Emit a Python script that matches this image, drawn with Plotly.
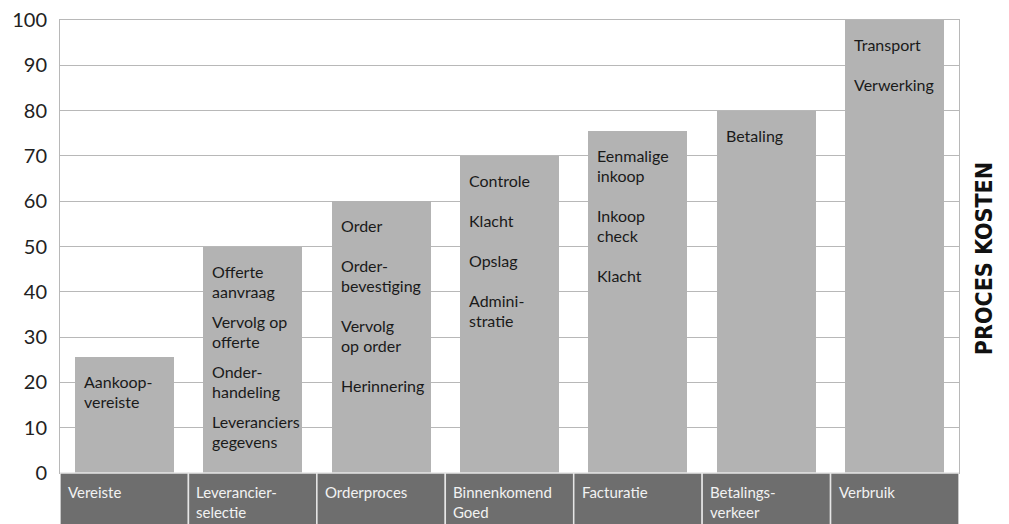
import plotly.graph_objects as go

# ---------------- data ----------------
categories = ["Vereiste", "Leverancierselectie", "Orderproces", "Binnenkomend Goed",
              "Facturatie", "Betalingsverkeer", "Verbruik"]
category_labels = [["Vereiste"], ["Leverancier-", "selectie"], ["Orderproces"],
                   ["Binnenkomend", "Goed"], ["Facturatie"], ["Betalings-", "verkeer"],
                   ["Verbruik"]]
costs = [25.6, 50, 60, 70, 75.5, 80, 100]
bar_items = [
    [["Aankoop-", "vereiste"]],
    [["Offerte", "aanvraag"], ["Vervolg op", "offerte"], ["Onder-", "handeling"],
     ["Leveranciers", "gegevens"]],
    [["Order"], ["Order-", "bevestiging"], ["Vervolg", "op order"], ["Herinnering"]],
    [["Controle"], ["Klacht"], ["Opslag"], ["Admini-", "stratie"]],
    [["Eenmalige", "inkoop"], ["Inkoop", "check"], ["Klacht"]],
    [["Betaling"]],
    [["Transport"], ["Verwerking"]],
]
y_ticks = [0, 10, 20, 30, 40, 50, 60, 70, 80, 90, 100]
title_text = "PROCES KOSTEN"

# ---------------- style ----------------
FONT = "Lato, 'Open Sans', sans-serif"
BAR_COLOR = "#b3b3b3"
BAND_COLOR = "#6e6e6e"
GRID_COLOR = "#b8b8b8"
BAR_WIDTH = 0.77
item_gaps = [20, 10, 20, 20, 20, 20, 20]
FIRST_OFFSET = 24.5
LINE_H = 20
BAND_PX = 51
PLOT_H = 524 - 20 - BAND_PX

x_idx = list(range(len(categories)))

fig = go.Figure()
fig.add_trace(go.Bar(
    x=x_idx, y=costs, width=BAR_WIDTH, marker=dict(color=BAR_COLOR, line=dict(width=0)),
    hoverinfo="skip", showlegend=False,
))

annotations = []
# text inside bars
for i, items in enumerate(bar_items):
    offset = FIRST_OFFSET
    for item in items:
        for k, line in enumerate(item):
            annotations.append(dict(
                x=i - BAR_WIDTH / 2, y=costs[i], xref="x", yref="y",
                text=line, showarrow=False, xanchor="left", yanchor="middle",
                xshift=7, yshift=-(offset + k * LINE_H),
                font=dict(family=FONT, size=16, color="#1a1a1a"),
            ))
        offset += len(item) * LINE_H + item_gaps[i]

# category band
shapes = []
band_bottom = -(BAND_PX + 2) / PLOT_H
for i in x_idx:
    shapes.append(dict(
        type="rect", xref="x", yref="paper", x0=i - 0.5, x1=i + 0.5, y0=band_bottom, y1=0,
        fillcolor=BAND_COLOR, line=dict(color="#e6e6e6", width=1.5), layer="above",
    ))
    for k, line in enumerate(category_labels[i]):
        annotations.append(dict(
            x=i - 0.5, y=0, xref="x", yref="paper", text=line, showarrow=False,
            xanchor="left", yanchor="middle", xshift=6, yshift=-(18.7 + k * LINE_H),
            font=dict(family=FONT, size=15, color="#f2f2f2"),
        ))

annotations.append(dict(
    x=1, y=0.472, xref="paper", yref="paper", text="<b>" + title_text + "</b>",
    showarrow=False, textangle=-90, xanchor="center", yanchor="middle", xshift=25,
    font=dict(family="'DejaVu Sans Condensed', 'DejaVu Sans', sans-serif", size=23,
              color="#111111"),
))

fig.update_layout(
    width=1009, height=524,
    margin=dict(l=60, r=50, t=20, b=BAND_PX, autoexpand=False),
    paper_bgcolor="white", plot_bgcolor="white",
    bargap=0,
    xaxis=dict(range=[-0.5, len(categories) - 0.5], showticklabels=False, showgrid=False,
               zeroline=False, showline=True, linecolor=GRID_COLOR, linewidth=1, mirror=True,
               fixedrange=True),
    yaxis=dict(range=[0, 100], tickvals=y_ticks, ticktext=[str(v) for v in y_ticks],
               showgrid=True, gridcolor=GRID_COLOR, gridwidth=1, zeroline=False,
               showline=True, linecolor=GRID_COLOR, linewidth=1, mirror=True,
               tickfont=dict(family=FONT, size=20, color="#222222"),
               ticklabelstandoff=8, fixedrange=True, automargin=False),
    annotations=annotations,
    shapes=shapes,
)

fig.write_html(
    "out.html",
    config={"displayModeBar": False},
    post_script="document.body.style.margin='0';document.body.style.overflow='hidden';",
)
